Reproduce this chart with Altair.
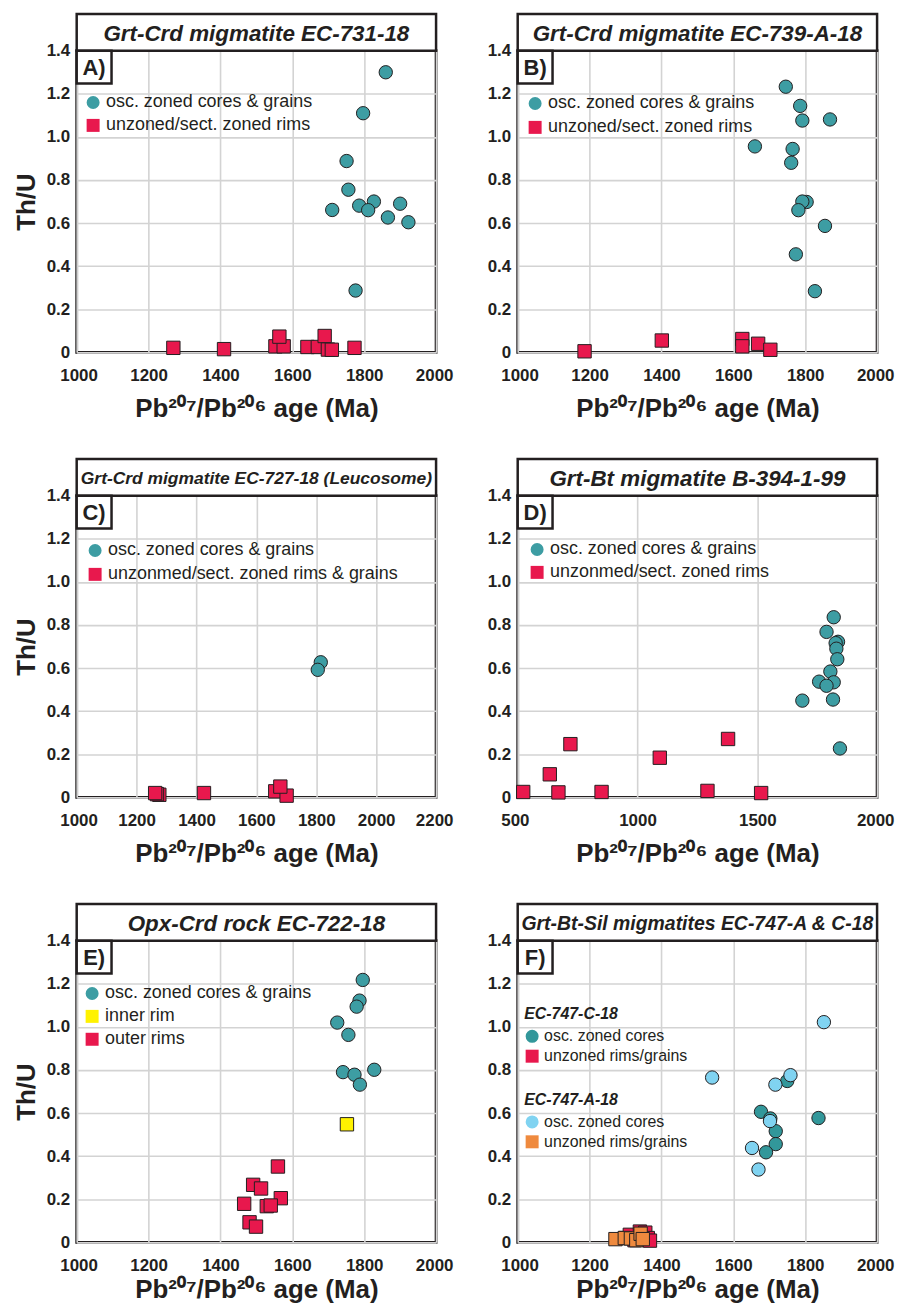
import altair as alt
import pandas as pd

FONT = "Liberation Sans"
DARK = "#231f20"
GRID = "#d3d3d3"
TEAL = "#3d9da3"
CRIMSON = "#e8184d"
YELLOW = "#fff200"
LIGHTBLUE = "#80d3f1"
ORANGE = "#ef8a3e"
DARKTEAL = "#32979a"

XTITLE = "Pb²⁰⁷/Pb²⁰⁶ age (Ma)"
YTICKS = [0, 0.2, 0.4, 0.6, 0.8, 1.0, 1.2, 1.4]
W, H = 361, 303

# ---------------- data ----------------
# Panel A
a_core_age = [1860, 1797, 1751, 1756, 1711, 1786, 1827, 1811, 1900, 1866, 1923, 1776]
a_core_thu = [1.30, 1.11, 0.888, 0.755, 0.661, 0.681, 0.70, 0.66, 0.69, 0.626, 0.604, 0.287]
a_rim_age = [1269, 1410, 1553, 1576, 1564, 1642, 1671, 1690, 1699, 1710, 1773]
a_rim_thu = [0.021, 0.015, 0.028, 0.028, 0.073, 0.025, 0.025, 0.076, 0.013, 0.012, 0.021]

# Panel B
b_core_age = [1746, 1786, 1792, 1869, 1660, 1765, 1761, 1804, 1792, 1781, 1855, 1774, 1827]
b_core_thu = [1.233, 1.144, 1.076, 1.081, 0.956, 0.944, 0.88, 0.698, 0.70, 0.66, 0.587, 0.455, 0.284]
b_rim_age = [1186, 1401, 1625, 1625, 1669, 1703]
b_rim_thu = [0.005, 0.055, 0.062, 0.028, 0.04, 0.012]

# Panel C
c_core_age = [1815, 1805]
c_core_thu = [0.627, 0.592]
c_rim_age = [1276, 1268, 1262, 1425, 1663, 1701, 1680]
c_rim_thu = [0.012, 0.015, 0.02, 0.02, 0.028, 0.008, 0.05]

# Panel D
d_core_age = [1819, 1789, 1837, 1827, 1830, 1834, 1805, 1758, 1819, 1789, 1688, 1816, 1845]
d_core_thu = [0.836, 0.768, 0.722, 0.716, 0.69, 0.641, 0.584, 0.537, 0.534, 0.518, 0.449, 0.454, 0.227]
d_rim_age = [523, 634, 720, 670, 850, 1093, 1292, 1378, 1516]
d_rim_thu = [0.025, 0.107, 0.247, 0.023, 0.025, 0.184, 0.03, 0.271, 0.02]

# Panel E
e_core_age = [1796, 1787, 1779, 1725, 1756, 1741, 1773, 1828, 1788]
e_core_thu = [1.218, 1.122, 1.094, 1.02, 0.963, 0.79, 0.778, 0.801, 0.732]
e_inner_age = [1752]
e_inner_thu = [0.548]
e_outer_age = [1560, 1491, 1513, 1466, 1568, 1529, 1540, 1481, 1499]
e_outer_thu = [0.352, 0.267, 0.25, 0.179, 0.205, 0.168, 0.171, 0.093, 0.073]

# Panel F  (EC-747-C-18)
fc_core_age = [1750, 1677, 1703, 1718, 1718, 1691, 1837]
fc_core_thu = [0.749, 0.606, 0.575, 0.516, 0.456, 0.418, 0.577]
fc_rim_age = [1300, 1312, 1325, 1340, 1355, 1362, 1368]
fc_rim_thu = [0.02, 0.035, 0.01, 0.05, 0.045, 0.02, 0.008]
# Panel F  (EC-747-A-18)
fa_core_age = [1852, 1541, 1759, 1717, 1702, 1652, 1670]
fa_core_thu = [1.022, 0.765, 0.776, 0.732, 0.563, 0.438, 0.338]
fa_rim_age = [1272, 1298, 1315, 1330, 1342, 1348]
fa_rim_thu = [0.015, 0.02, 0.018, 0.01, 0.04, 0.015]

CORES = "osc. zoned cores & grains"
PT_SIZE = 180


def frame(series, field):
    rows = []
    for name, ages, thus in series:
        for a, t in zip(ages, thus):
            rows.append({"age": a, field: name, "thu": t})
    return pd.DataFrame(rows)


def legend(x, y, size=18, title=None, rowpad=5):
    kw = dict(orient="none", legendX=x, legendY=y, labelFont=FONT, labelFontSize=size,
              labelColor=DARK, symbolSize=170, symbolStrokeColor=DARK, symbolStrokeWidth=1,
              rowPadding=rowpad, labelOffset=4, padding=0, labelLimit=0, symbolOpacity=1)
    if title is None:
        kw["title"] = None
    else:
        kw.update(title=title, titleFont=FONT, titleFontSize=size, titleFontWeight="bold",
                  titleFontStyle="italic", titleColor=DARK, titlePadding=6)
    return alt.Legend(**kw)


def points(df, field, domain, colors, shapes, xdomain, xticks, ytitle, leg, xpad=11.5):
    return alt.Chart(df).mark_point(filled=True, size=PT_SIZE, stroke=DARK, strokeWidth=1, opacity=1).encode(
        x=alt.X("age:Q", scale=alt.Scale(domain=xdomain, nice=False, zero=False),
                axis=alt.Axis(values=xticks, format="d", title=XTITLE, titlePadding=xpad)),
        y=alt.Y("thu:Q", scale=alt.Scale(domain=[0, 1.4], nice=False),
                axis=alt.Axis(values=YTICKS, title=ytitle,
                              labelExpr="datum.value == 0 ? '0' : format(datum.value, '.1f')")),
        color=alt.Color(f"{field}:N", scale=alt.Scale(domain=domain, range=colors), legend=leg),
        shape=alt.Shape(f"{field}:N", scale=alt.Scale(domain=domain, range=shapes), legend=leg),
    )


def decor(title, tsize, label):
    d = pd.DataFrame({"title": [title], "label": [label]})
    box = alt.Chart(d).mark_rect(fill="white", stroke=DARK, strokeWidth=2.5).encode(
        x=alt.value(0), x2=alt.value(W), y=alt.value(-37), y2=alt.value(0))
    ttext = alt.Chart(d).mark_text(font=FONT, fontSize=tsize, fontWeight="bold", fontStyle="italic",
                                   color=DARK, align="center", baseline="middle").encode(
        text="title:N", x=alt.value(W / 2), y=alt.value(-17))
    lbox = alt.Chart(d).mark_rect(fill="white", stroke=DARK, strokeWidth=2.5).encode(
        x=alt.value(0), x2=alt.value(35), y=alt.value(0), y2=alt.value(33))
    ltext = alt.Chart(d).mark_text(font=FONT, fontSize=22, fontWeight="bold", color=DARK,
                                   align="center", baseline="middle").encode(
        text="label:N", x=alt.value(17.5), y=alt.value(17.5))
    return [box, ttext, lbox, ltext]


def simple_panel(series, domain, colors, shapes, title, tsize, label, xdomain, xticks, ytitle, leg,
                 xpad=11.5):
    df = frame(series, "type")
    pts = points(df, "type", domain, colors, shapes, xdomain, xticks, ytitle, leg, xpad)
    return alt.layer(pts, *decor(title, tsize, label)).properties(width=W, height=H)


X1 = [1000, 1200, 1400, 1600, 1800, 2000]
BOTTOM_PAD = 2.5

RIMS_A = "unzoned/sect. zoned rims"
pA = simple_panel([(CORES, a_core_age, a_core_thu), (RIMS_A, a_rim_age, a_rim_thu)],
                  [CORES, RIMS_A], [TEAL, CRIMSON], ["circle", "square"],
                  "Grt-Crd migmatite EC-731-18", 22.5, "A)", [1000, 2000], X1, "Th/U",
                  legend(7.5, 43))

pB = simple_panel([(CORES, b_core_age, b_core_thu), (RIMS_A, b_rim_age, b_rim_thu)],
                  [CORES, RIMS_A], [TEAL, CRIMSON], ["circle", "square"],
                  "Grt-Crd migmatite EC-739-A-18", 22.5, "B)", [1000, 2000], X1, None,
                  legend(8.5, 44, rowpad=6))

RIMS_C = "unzonmed/sect. zoned rims & grains"
pC = simple_panel([(CORES, c_core_age, c_core_thu), (RIMS_C, c_rim_age, c_rim_thu)],
                  [CORES, RIMS_C], [TEAL, CRIMSON], ["circle", "square"],
                  "Grt-Crd migmatite EC-727-18 (Leucosome)", 17.5, "C)", [1000, 2200],
                  [1000, 1200, 1400, 1600, 1800, 2000, 2200], "Th/U",
                  legend(9.5, 46, rowpad=6))

RIMS_D = "unzonmed/sect. zoned rims"
pD = simple_panel([(CORES, d_core_age, d_core_thu), (RIMS_D, d_rim_age, d_rim_thu)],
                  [CORES, RIMS_D], [TEAL, CRIMSON], ["circle", "square"],
                  "Grt-Bt migmatite B-394-1-99", 22.5, "D)", [500, 2000],
                  [500, 1000, 1500, 2000], None, legend(10.5, 45))

pE = simple_panel([(CORES, e_core_age, e_core_thu), ("inner rim", e_inner_age, e_inner_thu),
                   ("outer rims", e_outer_age, e_outer_thu)],
                  [CORES, "inner rim", "outer rims"], [TEAL, YELLOW, CRIMSON],
                  ["circle", "square", "square"],
                  "Opx-Crd rock EC-722-18", 22.5, "E)", [1000, 2000], X1, "Th/U",
                  legend(6.5, 44), xpad=BOTTOM_PAD)

# Panel F: two samples, two legends
FC_CORE, FC_RIM = "osc. zoned cores", "unzoned rims/grains"
FA_CORE, FA_RIM = "osc. zoned cores ", "unzoned rims/grains "
dfC = frame([(FC_CORE, fc_core_age, fc_core_thu), (FC_RIM, fc_rim_age, fc_rim_thu)], "typeC")
dfA = frame([(FA_CORE, fa_core_age, fa_core_thu), (FA_RIM, fa_rim_age, fa_rim_thu)], "typeA")
ptsC = points(dfC, "typeC", [FC_CORE, FC_RIM], [DARKTEAL, CRIMSON], ["circle", "square"],
              [1000, 2000], X1, None, legend(6.5, 66, size=16, title="EC-747-C-18", rowpad=2),
              xpad=BOTTOM_PAD)
ptsA = points(dfA, "typeA", [FA_CORE, FA_RIM], [LIGHTBLUE, ORANGE], ["circle", "square"],
              [1000, 2000], X1, None, legend(6.5, 152, size=16, title="EC-747-A-18", rowpad=2),
              xpad=BOTTOM_PAD)
pF = alt.layer(ptsC, ptsA, *decor("Grt-Bt-Sil migmatites EC-747-A & C-18", 19.5, "F)")).resolve_scale(
    color="independent", shape="independent").properties(width=W, height=H)


def row(l, r):
    return alt.hconcat(l, r, spacing=30).resolve_scale(color="independent", shape="independent") \
        .resolve_legend(color="independent", shape="independent")


chart = alt.vconcat(row(pA, pB), row(pC, pD), row(pE, pF), spacing=33) \
    .resolve_scale(color="independent", shape="independent") \
    .resolve_legend(color="independent", shape="independent") \
    .configure(font=FONT, padding={"left": 3, "top": 0, "right": -1, "bottom": -3}) \
    .configure_view(stroke=DARK, strokeWidth=2.8) \
    .configure_axis(labelFont=FONT, labelFontSize=17, labelFontWeight="bold", labelColor=DARK,
                    titleFont=FONT, titleFontSize=26, titleFontWeight="bold", titleColor=DARK,
                    ticks=False, domain=False, gridColor=GRID, gridWidth=1.6, labelFlush=False) \
    .configure_axisX(labelPadding=15.5, labelFlush=True, labelFlushOffset=17) \
    .configure_axisY(labelPadding=7, titlePadding=7)

chart.save("out.html", embed_options={"renderer": "svg", "actions": False})
